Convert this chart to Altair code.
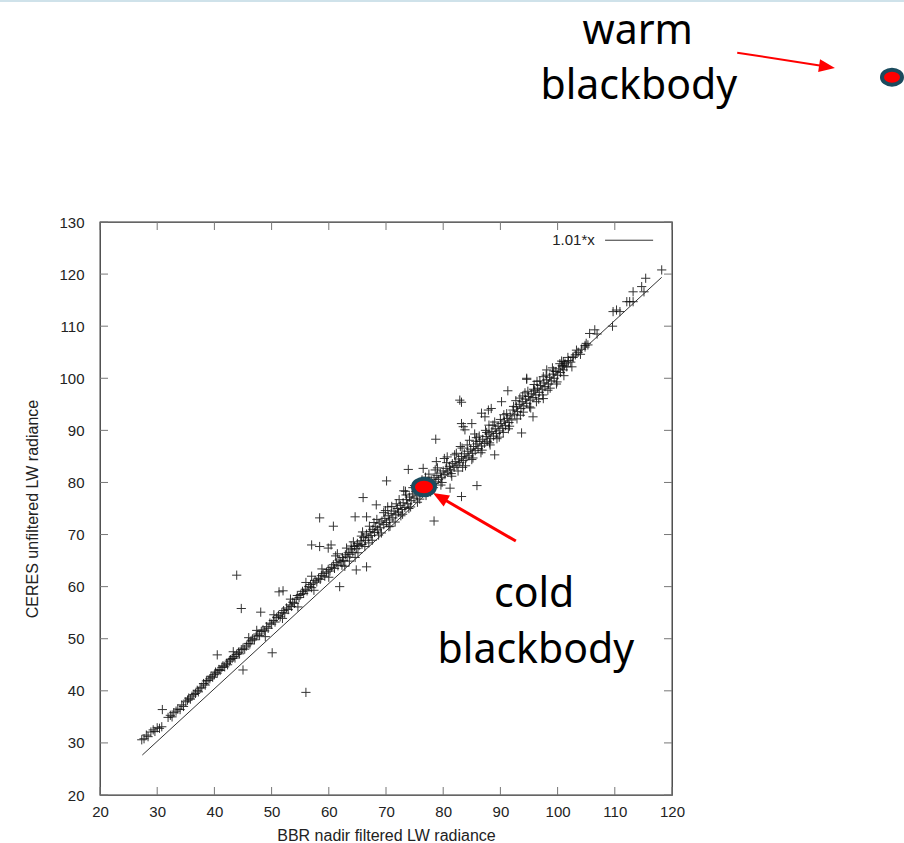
import altair as alt
import pandas as pd

# ---------------- data ----------------
# (BBR nadir filtered LW radiance, CERES unfiltered LW radiance)
band_low = [
    (27.3, 30.6), (27.7, 30.8), (28.1, 31.5), (28.4, 31.2), (28.9, 32.1), (29.3, 32.5), (29.6, 32.2),
    (30.0, 32.9), (30.4, 32.8), (30.8, 33.1), (31.9, 34.9), (32.3, 35.3), (32.6, 35.0), (32.9, 35.8),
    (33.3, 36.1), (33.6, 36.5), (34.0, 36.4), (34.3, 37.3), (34.6, 37.0), (35.0, 37.9), (35.3, 38.2),
    (35.5, 38.6), (35.8, 38.4), (36.1, 39.0), (36.4, 39.3), (36.7, 39.5), (37.0, 40.1), (37.2, 39.8),
    (37.5, 40.5), (37.8, 40.7), (38.1, 41.4), (38.4, 41.1), (38.6, 41.9), (38.9, 42.0), (39.2, 42.3),
    (39.4, 42.8), (39.7, 42.6), (40.0, 43.1), (40.2, 43.6), (40.5, 43.4), (40.8, 44.1), (41.0, 43.9),
    (41.3, 44.5), (41.5, 44.8), (41.8, 44.6), (42.1, 45.3), (42.3, 45.0), (42.6, 45.7), (42.8, 46.0),
    (43.1, 46.2), (43.4, 46.6), (43.6, 46.3), (43.9, 47.0), (44.2, 47.4), (44.4, 47.1), (44.7, 47.9),
    (45.0, 48.2), (45.3, 48.0),
]
band_a = [
    (45.6, 48.6), (45.9, 49.1), (46.2, 49.0), (46.4, 49.6), (46.7, 50.0), (47.0, 49.8), (47.3, 50.5),
    (47.6, 50.9), (47.9, 50.6), (48.2, 51.4), (48.5, 51.7), (48.8, 51.5), (49.1, 52.3), (49.4, 52.0),
    (49.7, 53.0), (50.0, 52.8), (50.3, 53.5), (50.6, 53.2), (50.9, 54.1), (51.2, 54.5), (51.5, 54.2),
    (51.8, 55.0), (52.1, 55.4), (52.3, 54.9), (52.6, 55.9), (52.9, 55.6), (53.2, 56.5), (53.5, 56.2),
    (53.7, 57.0), (54.0, 56.8), (54.3, 57.6), (54.5, 58.3), (54.8, 57.9), (55.1, 58.5), (55.4, 59.1),
    (55.6, 58.7), (55.9, 59.5), (56.2, 59.2), (56.5, 60.0), (56.8, 60.4), (57.0, 59.8), (57.3, 60.7),
    (57.6, 61.2), (57.9, 60.9), (58.2, 61.6), (58.5, 61.4), (58.7, 62.1), (59.0, 62.5), (59.3, 62.0),
    (59.6, 62.8), (59.9, 63.3), (60.2, 63.0), (60.5, 63.7),
]
band_b = [
    (60.8, 64.2), (61.0, 63.5), (61.3, 64.6), (61.6, 64.0), (61.8, 65.1), (62.1, 64.8), (62.4, 65.6),
    (62.6, 65.0), (62.9, 66.1), (63.2, 65.7), (63.4, 66.5), (63.7, 66.2), (64.0, 67.2), (64.2, 66.6),
    (64.5, 67.7), (64.8, 67.3), (65.0, 68.3), (65.3, 67.9), (65.6, 68.8), (65.8, 68.1), (66.1, 69.4),
    (66.4, 68.9), (66.6, 70.1), (66.9, 69.5), (67.2, 70.6), (67.4, 69.8), (67.7, 71.0), (68.0, 70.4),
    (68.2, 71.5), (68.5, 70.9), (68.8, 72.2), (69.0, 71.3), (69.3, 72.6), (69.6, 71.9), (69.8, 73.1),
    (70.1, 72.3), (70.4, 73.6), (70.6, 72.8), (70.9, 74.0), (71.2, 73.2), (71.4, 74.5), (71.7, 73.9),
    (72.0, 75.0), (72.2, 74.3), (72.5, 75.6), (72.8, 74.8), (73.0, 76.1), (73.3, 75.2), (73.6, 76.7),
    (73.8, 75.9), (74.1, 77.2), (74.4, 76.5), (74.6, 77.8), (74.9, 77.0), (75.2, 78.3), (75.4, 77.4),
    (75.7, 78.9), (76.0, 78.0), (76.2, 79.3), (76.5, 78.6), (76.8, 79.6), (77.1, 78.9), (77.3, 80.2),
    (77.6, 79.3),
    (61.5, 66.3), (62.8, 63.9), (63.9, 67.8), (64.6, 65.6), (65.7, 69.7), (67.0, 68.4), (67.9, 72.3),
    (68.7, 69.9), (69.9, 74.6), (70.7, 71.6), (71.8, 75.9), (72.6, 73.6), (73.5, 77.6), (74.3, 75.3),
    (75.0, 79.4), (75.9, 76.8), (76.9, 81.0), (77.8, 78.2), (70.3, 75.3), (73.1, 78.4),
]
band_c = [
    (77.9, 80.5), (78.1, 79.8), (78.4, 80.9), (78.7, 80.1), (78.9, 81.3), (79.2, 80.6), (79.5, 81.8),
    (79.7, 81.0), (80.0, 82.2), (80.3, 81.5), (80.5, 82.7), (80.8, 82.0), (81.1, 83.1), (81.3, 82.4),
    (81.6, 83.6), (81.9, 82.9), (82.1, 84.0), (82.4, 83.3), (82.7, 84.5), (82.9, 83.8), (83.2, 85.0),
    (83.5, 84.2), (83.7, 85.5), (84.0, 84.7), (84.3, 86.0), (84.5, 85.1), (84.8, 86.4), (85.1, 85.6),
    (85.3, 86.9), (85.6, 86.1), (85.9, 87.4), (86.1, 86.5), (86.4, 87.9), (86.7, 87.0), (86.9, 88.3),
    (87.2, 87.5), (87.5, 88.8), (87.7, 87.9), (88.0, 89.3), (88.3, 88.4), (88.5, 89.8), (88.8, 88.9),
    (89.1, 90.3), (89.3, 89.4), (89.6, 90.8), (89.9, 89.9), (90.1, 91.3), (90.4, 90.4), (90.7, 91.8),
    (90.9, 90.9), (91.2, 92.3), (91.5, 91.5), (91.7, 92.8), (92.0, 92.0),
    (78.6, 82.4), (79.6, 79.5), (80.6, 83.8), (81.5, 81.2), (82.3, 85.6), (83.4, 82.9), (84.2, 87.2),
    (85.0, 84.4), (85.8, 88.6), (86.6, 85.7), (87.4, 90.0), (88.2, 87.2), (89.0, 91.6), (89.8, 88.7),
    (90.6, 93.0), (91.4, 90.3), (80.2, 84.6), (83.0, 86.9), (85.5, 89.3), (88.0, 91.0),
]
band_d = [
    (92.2, 93.9), (92.5, 93.1), (92.8, 94.5), (93.0, 93.6), (93.3, 95.0), (93.6, 94.2), (93.8, 95.5),
    (94.1, 94.7), (94.4, 96.0), (94.6, 95.2), (94.9, 96.5), (95.2, 95.8), (95.4, 97.0), (95.7, 96.3),
    (96.0, 97.6), (96.2, 96.8), (96.5, 98.1), (96.8, 97.3), (97.0, 98.6), (97.3, 97.9), (97.6, 99.1),
    (97.8, 98.4), (98.1, 99.7), (98.4, 98.9), (98.6, 100.2), (98.9, 99.5), (99.2, 100.8), (99.4, 100.0),
    (99.7, 101.3), (100.0, 100.6), (100.2, 101.8), (100.5, 101.1), (100.8, 102.4), (101.0, 101.6),
    (101.3, 102.9), (101.6, 102.2), (101.9, 103.4), (102.3, 103.1), (102.7, 104.1), (103.1, 104.5),
    (103.6, 105.0), (104.2, 105.6), (104.8, 106.3),
    (92.7, 95.7), (93.5, 92.9), (94.3, 97.2), (95.1, 94.5), (95.9, 98.8), (96.7, 96.0), (97.5, 100.3),
    (98.3, 97.7), (99.1, 102.0), (99.9, 99.3), (100.7, 103.3), (93.9, 96.6), (96.4, 99.4),
]
band_extra = [
    (46.0, 50.2), (47.4, 51.6), (48.9, 50.4), (50.4, 54.6), (51.9, 53.9), (53.3, 57.6), (54.6, 56.1),
    (56.0, 60.8), (57.4, 59.3), (58.8, 63.4), (60.0, 61.8), (61.2, 65.9), (62.3, 64.1), (63.1, 67.4),
    (63.6, 64.9), (64.3, 68.6), (65.1, 66.5), (65.9, 70.5), (66.3, 67.7), (67.1, 71.6), (67.6, 68.9),
    (68.4, 72.9), (69.2, 70.3), (69.6, 74.2), (70.5, 71.5), (71.0, 75.4), (71.6, 72.4), (72.3, 76.7),
    (72.9, 73.9), (73.4, 78.3), (74.0, 75.0), (74.7, 79.0), (75.5, 76.2), (76.3, 80.5), (77.0, 77.5),
    (77.5, 81.6), (78.3, 79.0), (79.0, 82.8), (79.8, 80.0), (80.7, 84.9), (81.4, 81.7), (82.0, 85.3),
    (82.6, 82.2), (83.3, 86.6), (83.9, 83.2), (84.6, 88.1), (85.2, 84.7), (85.7, 87.9), (86.3, 88.9),
    (86.8, 86.2), (87.6, 89.6), (88.1, 87.6), (88.7, 91.0), (89.4, 88.4), (90.0, 92.1), (90.5, 89.6),
    (91.1, 93.2), (91.6, 90.8), (92.3, 94.6), (92.9, 92.2), (93.4, 96.2), (94.0, 93.5), (94.8, 97.5),
    (95.3, 94.3), (95.8, 97.9), (96.3, 95.5), (96.9, 99.5), (97.4, 96.8), (98.0, 100.6), (98.7, 98.1),
    (99.3, 101.4), (99.8, 98.9), (100.4, 102.8), (101.1, 100.5), (101.8, 104.0), (102.5, 102.2),
    (103.3, 105.4), (104.0, 104.6),
]
band_high = [
    (105.0, 106.7), (104.8, 106.0), (105.3, 106.4), (105.6, 108.6), (106.5, 109.3), (106.9, 108.5),
    (109.6, 110.0), (110.3, 113.1), (109.7, 112.8), (110.9, 112.8), (112.1, 114.7), (112.6, 114.7),
    (113.2, 114.7), (113.2, 116.6), (114.7, 117.6), (115.1, 116.6), (115.4, 119.2), (118.2, 120.8),
    (102.7, 104.0), (101.0, 103.2), (100.9, 102.2), (101.2, 102.5),
]
outliers = [
    (30.9, 36.4), (40.5, 46.9), (43.3, 47.5), (45.0, 44.0), (43.9, 62.2), (44.7, 55.8), (48.1, 55.1),
    (50.1, 47.3), (51.3, 59.0), (52.0, 59.2), (56.0, 39.7), (57.0, 62.0), (58.4, 73.2), (60.8, 71.6),
    (57.0, 68.0), (58.4, 67.7), (59.9, 67.4), (60.4, 68.0), (61.9, 60.0), (64.8, 63.2), (66.6, 63.8),
    (64.6, 73.4), (66.6, 73.4), (68.3, 75.7), (66.0, 77.1), (70.1, 80.3), (73.9, 82.5), (76.5, 82.7),
    (78.7, 88.3), (78.8, 84.0), (78.4, 72.6), (81.2, 78.9), (83.2, 77.3), (85.9, 79.4), (82.9, 95.8),
    (83.2, 95.4), (86.7, 93.3), (87.9, 93.9), (88.4, 94.2), (87.3, 92.6), (83.2, 91.3), (83.5, 90.7),
    (85.0, 91.3), (83.8, 90.1), (90.2, 95.5), (91.3, 97.6), (94.6, 99.8), (97.5, 96.1), (95.7, 92.6),
    (93.7, 89.5), (89.0, 85.3), (98.1, 101.6), (94.6, 100.0),
]

fit_x = [27.4, 118.2]          # extent of the 1.01*x line
fit_slope = 1.01

x_ticks = [20, 30, 40, 50, 60, 70, 80, 90, 100, 110, 120]
y_ticks = [20, 30, 40, 50, 60, 70, 80, 90, 100, 110, 120, 130]

legend_label = ["1.01*x"]
legend_pos = [(106.5, 126.5)]
legend_line = [(108.3, 116.7, 126.5)]

# blackbody markers (data coordinates of the slide overlay)
bb_names = ["cold", "warm"]
bb_x = [76.64, 158.46]
bb_y = [79.12, 157.8]
bb_size = [484, 400]

# annotation texts and arrows
ann_text = ["warm", "blackbody", "cold", "blackbody"]
ann_x = [114.0, 114.2, 95.9, 96.2]
ann_y = [164.15, 153.6, 56.1, 45.3]

arrow_x1 = [92.7, 131.4]
arrow_y1 = [68.75, 162.5]
arrow_x2 = [80.33, 146.1]
arrow_y2 = [76.62, 160.0]
arrow_w = [3, 2]
head_x = [79.42, 147.1]
head_y = [77.2, 159.8]
head_angle = [300, 98.7]

# ---------------- build tables ----------------
pts = band_low + band_a + band_b + band_c + band_d + band_extra + band_high + outliers
scatter_df = pd.DataFrame(pts, columns=["bbr", "ceres"])
fit_df = pd.DataFrame({"bbr": fit_x, "ceres": [fit_slope * v for v in fit_x]})
xt_df = pd.DataFrame({"bbr": x_ticks})
yt_df = pd.DataFrame({"ceres": y_ticks})
leg_txt_df = pd.DataFrame({"t": legend_label, "bbr": [p[0] for p in legend_pos], "ceres": [p[1] for p in legend_pos]})
leg_line_df = pd.DataFrame({"bbr": [l[0] for l in legend_line], "bbr2": [l[1] for l in legend_line],
                            "ceres": [l[2] for l in legend_line]})
bb_df = pd.DataFrame({"name": bb_names, "bbr": bb_x, "ceres": bb_y, "s": bb_size})
ann_df = pd.DataFrame({"t": ann_text, "bbr": ann_x, "ceres": ann_y})
arrow_df = pd.DataFrame({"bbr": arrow_x1, "ceres": arrow_y1, "bbr2": arrow_x2, "ceres2": arrow_y2, "w": arrow_w})
head_df = pd.DataFrame({"bbr": head_x, "ceres": head_y, "a": head_angle})

XT = "BBR nadir filtered LW radiance"
YT = "CERES unfiltered LW radiance"
xscale = alt.Scale(domain=[20, 120], nice=False, zero=False)
yscale = alt.Scale(domain=[20, 130], nice=False, zero=False)

PLUS = "M-1,0L1,0M0,-1L0,1"
ELLIPSE = "M-1,0A1,0.75 0 1,0 1,0A1,0.75 0 1,0 -1,0Z"
HEAD = "M0,-1L0.8,1L-0.8,1Z"

scatter = alt.Chart(scatter_df).mark_point(
    shape=PLUS, size=85, filled=False, color="#111111", strokeWidth=1, opacity=0.85
).encode(
    x=alt.X("bbr:Q", scale=xscale, title=XT,
            axis=alt.Axis(values=x_ticks, format="d", labelPadding=9, titlePadding=8, labelFlush=False)),
    y=alt.Y("ceres:Q", scale=yscale, title=YT,
            axis=alt.Axis(values=y_ticks, format="d", labelPadding=16, titlePadding=18, labelFlush=False)),
)

fit = alt.Chart(fit_df).mark_line(color="#333333", strokeWidth=1).encode(
    x=alt.X("bbr:Q", title=XT), y=alt.Y("ceres:Q", title=YT))

tick_color = "#777777"
tick_b = alt.Chart(xt_df).mark_rule(color=tick_color, strokeWidth=1).encode(
    x=alt.X("bbr:Q", title=XT), y=alt.value(573), y2=alt.value(565))
tick_t = alt.Chart(xt_df).mark_rule(color=tick_color, strokeWidth=1).encode(
    x=alt.X("bbr:Q", title=XT), y=alt.value(0), y2=alt.value(8))
tick_l = alt.Chart(yt_df).mark_rule(color=tick_color, strokeWidth=1).encode(
    y=alt.Y("ceres:Q", title=YT), x=alt.value(0), x2=alt.value(8))
tick_r = alt.Chart(yt_df).mark_rule(color=tick_color, strokeWidth=1).encode(
    y=alt.Y("ceres:Q", title=YT), x=alt.value(572), x2=alt.value(564))

leg_text = alt.Chart(leg_txt_df).mark_text(
    align="right", baseline="middle", font="Liberation Sans", fontSize=15, color="#222222"
).encode(x=alt.X("bbr:Q", title=XT), y=alt.Y("ceres:Q", title=YT), text="t:N")
leg_line = alt.Chart(leg_line_df).mark_rule(color="#333333", strokeWidth=1).encode(
    x=alt.X("bbr:Q", title=XT), x2="bbr2:Q", y=alt.Y("ceres:Q", title=YT))

arrows = alt.Chart(arrow_df).mark_rule(color="#ff0000").encode(
    x=alt.X("bbr:Q", title=XT), y=alt.Y("ceres:Q", title=YT), x2="bbr2:Q", y2="ceres2:Q",
    strokeWidth=alt.StrokeWidth("w:Q", scale=None))
heads = alt.Chart(head_df).mark_point(shape=HEAD, size=256, filled=True, color="#ff0000", opacity=1).encode(
    x=alt.X("bbr:Q", title=XT), y=alt.Y("ceres:Q", title=YT), angle=alt.Angle("a:Q", scale=None))

dots = alt.Chart(bb_df).mark_point(
    shape=ELLIPSE, filled=True, fill="#ff0000", stroke="#1b4b5e", strokeWidth=4, opacity=1, fillOpacity=1
).encode(x=alt.X("bbr:Q", title=XT), y=alt.Y("ceres:Q", title=YT), size=alt.Size("s:Q", scale=None))

ann = alt.Chart(ann_df).mark_text(
    align="center", baseline="alphabetic", font="Noto Sans", fontSize=41, color="#000000"
).encode(x=alt.X("bbr:Q", title=XT), y=alt.Y("ceres:Q", title=YT), text="t:N")

top_border = alt.Chart(xt_df).mark_rule(color="#cfe2ea", strokeWidth=2).encode(
    x=alt.value(-100), x2=alt.value(804), y=alt.value(-221))

chart = alt.layer(
    scatter, fit, tick_b, tick_t, tick_l, tick_r, leg_line, leg_text,
    arrows, heads, dots, ann, top_border
).properties(
    width=572, height=573,
    autosize=alt.AutoSizeParams(type="none"),
    padding={"left": 100, "top": 222, "right": 232, "bottom": 48},
    background="white",
).configure_view(
    stroke="#333333", strokeWidth=1.3
).configure_axis(
    grid=False, ticks=False, tickSize=0, domain=False,
    labelFont="Liberation Sans", labelFontSize=15, labelColor="#222222",
    titleFont="Liberation Sans", titleFontSize=16, titleFontWeight="normal", titleColor="#222222",
)

chart.save("out.html", embed_options={"renderer": "svg", "actions": False})
